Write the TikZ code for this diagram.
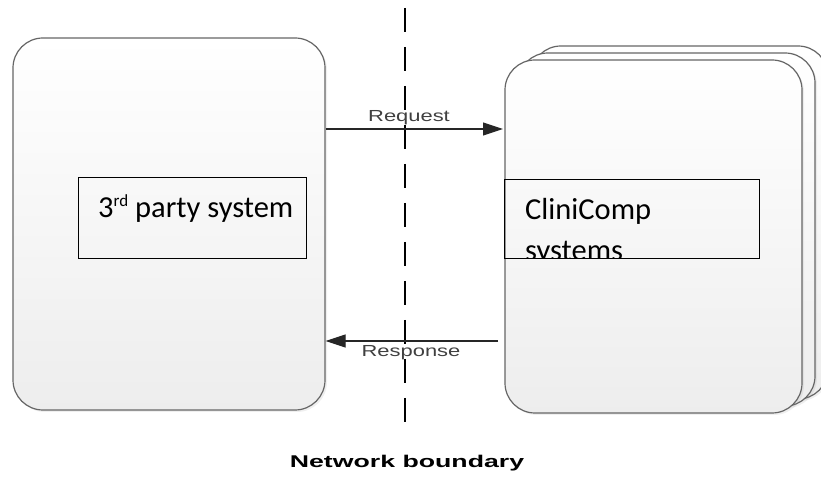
\documentclass[tikz,border=0pt]{standalone}
\usepackage{fontspec}
\setmainfont{Liberation Sans}
\newfontfamily\calfont{Carlito}
\usetikzlibrary{arrows.meta,shadows}
\begin{document}
\begin{tikzpicture}[x=1pt,y=1pt,
  sysbox/.style={draw=black!60, line width=1.2pt, rounded corners=30pt,
    top color=white, bottom color=black!7, inner sep=0pt,
    drop shadow={opacity=0.12, shadow xshift=2pt, shadow yshift=-2pt}},
  labelbox/.style={draw=black, line width=0.8pt, inner sep=0pt},
  flow/.style={line width=1.1pt, draw=black!85, -{Triangle[length=20pt,width=13pt]}},
  flowlabel/.style={font=\fontsize{16}{18}\selectfont, text=black!75, xscale=1.37, inner sep=0pt, anchor=base},
  boundary/.style={line width=1.5pt, dash pattern=on 24pt off 15pt},
  bigtext/.style={font=\calfont\fontsize{30.5}{41}\selectfont, inner sep=0pt, anchor=base west}
]
\useasboundingbox (0,0) rectangle (821,478);
\fill[white] (0,0) rectangle (821,478);

% left system
\node[sysbox, minimum width=312pt, minimum height=372pt] (lb) at (169,254) {};
\node[labelbox, minimum width=228pt, minimum height=81pt] (lr) at (192,260.5) {};
\node[bigtext] (lt) at (98,260) {3\raisebox{11pt}{\fontsize{17}{17}\selectfont rd} party system};

% right stacked systems
\node[sysbox, minimum width=297pt, minimum height=353pt] (back) at (679.5,255.5) {};
\node[sysbox, minimum width=297pt, minimum height=353pt] (mid) at (666.5,248.5) {};
\node[sysbox, minimum width=297pt, minimum height=353pt] (front) at (653.5,241.5) {};
\node[labelbox, minimum width=255pt, minimum height=79pt] (rr) at (631.5,259.5) {};
\begin{scope}
  \clip (rr.south west) rectangle (rr.north east);
  \node[bigtext] (rt1) at (525,258) {CliniComp};
  \node[bigtext] (rt2) at (525,217) {systems};
\end{scope}

% network boundary
\coordinate (btop) at (405,470);
\coordinate (bbot) at (405,51);
\draw[boundary] (btop) -- (bbot);
\node[font=\bfseries\fontsize{17}{19}\selectfont, xscale=1.57, inner sep=0pt, anchor=base] (nb) at (407,10) {Network boundary};

% flows
\coordinate (rqend) at (503,349);
\coordinate (rsstart) at (498,137);
\draw[flow] (lb.east |- rqend) -- (rqend);
\node[flowlabel] (rql) at (409,356) {Request};
\draw[flow] (rsstart) -- (lb.east |- rsstart);
\node[flowlabel] (rsl) at (411,121) {Response};
\end{tikzpicture}
\end{document}
